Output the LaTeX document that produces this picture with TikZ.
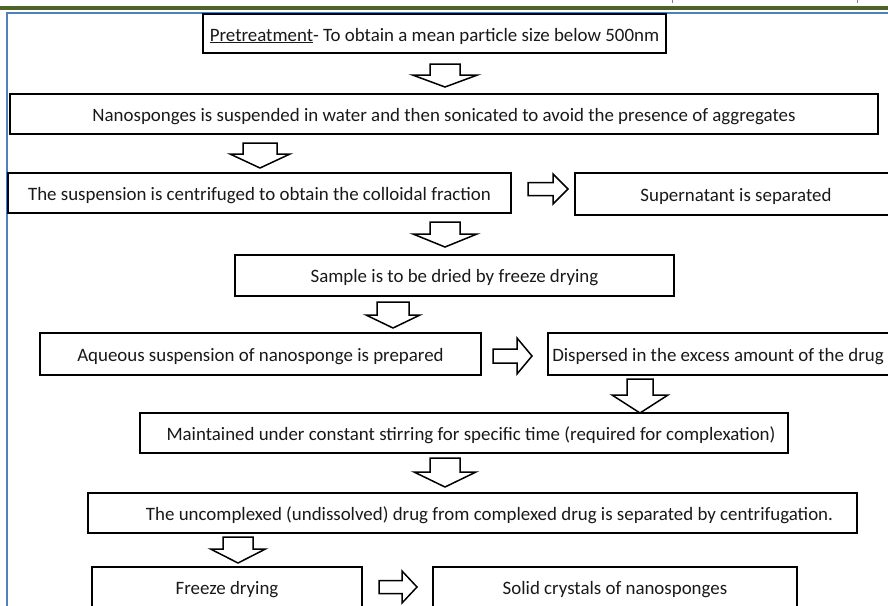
\documentclass[tikz,border=0pt]{standalone}
\usepackage{fontspec}
\setmainfont{Carlito}
\definecolor{olivebar}{HTML}{4F6228}
\definecolor{frameblue}{HTML}{4F81BD}
\newcommand\dnarr[6]{% cx, top, base, tip, shaft half, head half
  \draw[blockarrow] ({#1-#5},#2) -- ({#1+#5},#2) -- ({#1+#5},#3) -- ({#1+#6},#3)
    -- (#1,#4) -- ({#1-#6},#3) -- ({#1-#5},#3) -- cycle;}
\newcommand\rtarr[6]{% left, head start, tip, cy, shaft half, head half
  \draw[blockarrow] (#1,{#4-#5}) -- (#2,{#4-#5}) -- (#2,{#4-#6}) -- (#3,#4)
    -- (#2,{#4+#6}) -- (#2,{#4+#5}) -- (#1,{#4+#5}) -- cycle;}
\begin{document}
\begin{tikzpicture}[x=1pt,y=-1pt,
  box/.style={draw=black, line width=1.6pt, fill=white, inner sep=0pt},
  txt/.style={font=\fontsize{18.9}{22}\selectfont, inner sep=0pt, text=black!90, yshift=-2.5pt},
  blockarrow/.style={draw=black, line width=1.5pt, fill=white, line join=miter}]
\useasboundingbox (0,0) rectangle (888,605);
\clip (0,0) rectangle (888,605);
% header rules
\fill[olivebar] (0,5.5) rectangle (888,10);
\draw[gray, line width=0.8pt] (672,0) -- (672,3);
\draw[gray, line width=0.8pt] (857,0) -- (857,3);
\draw[frameblue, line width=1.6pt] (7,700) -- (7,12.8) -- (900,12.8);
% boxes
\node[box, minimum width=463, minimum height=39] (b1) at (434.5,33.5) {};
\node[box, minimum width=868, minimum height=40] (b2) at (444,114) {};
\node[box, minimum width=503, minimum height=40] (b3) at (259.5,193) {};
\node[box, minimum width=322, minimum height=42] (b4) at (736,194) {};
\node[box, minimum width=439, minimum height=41] (b5) at (454.5,275.5) {};
\node[box, minimum width=441, minimum height=42] (b6) at (260.5,354) {};
\node[box, minimum width=342, minimum height=42] (b7) at (719,354) {};
\node[box, minimum width=648, minimum height=40] (b8) at (464,433) {};
\node[box, minimum width=769, minimum height=40] (b9) at (472.5,513) {};
\node[box, minimum width=270, minimum height=40] (b10) at (227,587) {};
\node[box, minimum width=364, minimum height=40] (b11) at (615,587) {};
% texts
\node[txt] (t1) at (b1) {\underline{Pretreatment}- To obtain a mean particle size below 500nm};
\node[txt] (t2) at (b2) {Nanosponges is suspended in water and then sonicated to avoid the presence of aggregates};
\node[txt] (t3) at (b3) {The suspension is centrifuged to obtain the colloidal fraction};
\node[txt] (t4) at (b4) {Supernatant is separated};
\node[txt] (t5) at (b5) {Sample is to be dried by freeze drying};
\node[txt] (t6) at (b6) {Aqueous suspension of nanosponge is prepared};
\node[txt, xshift=-1pt] (t7) at (b7) {Dispersed in the excess amount of the drug};
\node[txt, xshift=7pt] (t8) at (b8) {Maintained under constant stirring for specific time (required for complexation)};
\node[txt, xshift=17pt] (t9) at (b9) {The uncomplexed (undissolved) drug from complexed drug is separated by centrifugation.};
\node[txt] (t10) at (b10) {Freeze drying};
\node[txt] (t11) at (b11) {Solid crystals of nanosponges};
% block arrows
\dnarr{445}{64}{75}{87}{15}{32.5}
\dnarr{260}{143}{154}{168}{17}{30}
\dnarr{445}{222}{234}{247}{15}{32}
\dnarr{393}{302}{315}{328}{16}{27}
\dnarr{640}{379}{395}{413}{13}{28}
\dnarr{445}{458}{472}{487}{15}{31}
\dnarr{238}{537}{549}{563}{15}{27.5}
\rtarr{528}{553}{568}{189}{6.5}{15}
\rtarr{493}{517}{532}{356}{7}{18}
\rtarr{379}{402}{417}{587}{6.5}{16}
\end{tikzpicture}
\end{document}
